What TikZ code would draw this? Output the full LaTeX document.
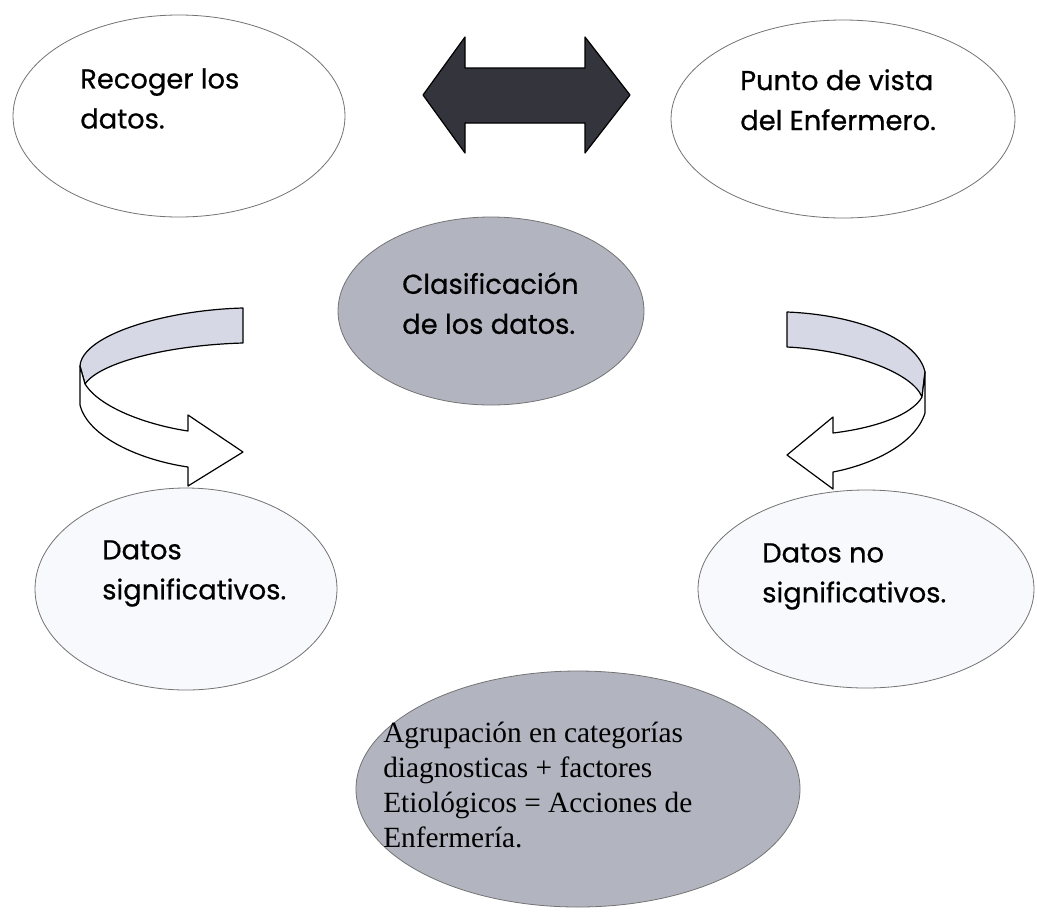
\documentclass[tikz,border=0pt]{standalone}
\usepackage{fontspec}
\setmainfont{Liberation Serif}
\newfontfamily\handfont[FakeBold=0.6]{Poppins}

\definecolor{bubblegrey}{RGB}{178,181,192}
\definecolor{bandgrey}{RGB}{214,217,229}
\definecolor{arrowdark}{RGB}{52,52,60}
\definecolor{paleblob}{RGB}{248,249,252}

\tikzset{
  blob/.style={draw=black!55, line width=0.6pt},
  greyblob/.style={blob, fill=bubblegrey},
  paleblob/.style={blob, fill=paleblob},
  handtext/.style={anchor=north west, inner sep=0pt, align=left, font=\handfont\fontsize{20.5}{30}\selectfont},
  printtext/.style={anchor=north west, inner sep=0pt, align=left, font=\fontsize{22}{26.25}\selectfont},
  ribbon/.style={draw=black, line width=0.9pt, line join=round},
}

\begin{document}
\begin{tikzpicture}[x=0.75pt,y=0.75pt,yscale=-1,xscale=1]
	\useasboundingbox (0,0) rectangle (1037,918);
	\fill[white] (0,0) rectangle (1037,918);
	% bubbles
	\draw [blob] (179,116) ellipse (166 and 101);
	\draw [blob] (843,119) ellipse (172 and 99);
	\draw [greyblob] (491,311) ellipse (153 and 94);
	\draw [paleblob] (186,589) ellipse (151 and 101);
	\draw [paleblob] (866,589) ellipse (168 and 99);
	\draw [greyblob] (578,789) ellipse (222 and 118);
	% double arrow
	\draw [ribbon, fill=arrowdark] (423,95) -- (465,37) -- (465,68) -- (585,68) -- (585,37) -- (630,95) -- (585,153) -- (585,123) -- (465,123) -- (465,153) -- cycle ;
	% left turning arrow
	\draw [ribbon, fill=bandgrey] (243,308) .. controls (165,310) and (82,335) .. (80,366) -- (85,384) .. controls (100,362) and (170,345) .. (243,343) -- cycle ;
	\draw [ribbon, fill=white] (80,366) -- (80,405) .. controls (88,437) and (140,460) .. (188,467) -- (188,486) -- (243,452) -- (188,415) -- (188,431) .. controls (148,425) and (100,408) .. (85,384) -- cycle ;
	% right turning arrow
	\draw [ribbon, fill=bandgrey] (787,312) .. controls (860,315) and (918,340) .. (925,372) -- (922,397) .. controls (912,372) and (850,350) .. (787,347) -- cycle ;
	\draw [ribbon, fill=white] (925,372) -- (925,413) .. controls (915,445) and (870,465) .. (833,472) -- (833,489) -- (787,455) -- (833,417) -- (833,433) .. controls (875,428) and (912,415) .. (922,397) -- cycle ;
	% labels
	\draw (80,68) node [handtext] (recoger) {Recoger los\\datos.};
	\draw (740,69) node [handtext] (punto) {Punto de vista\\del Enfermero.};
	\draw (402,272) node [handtext] (clasif) {Clasificación\\de los datos.};
	\draw (102,540) node [handtext] (signif) {Datos\\significativos.};
	\draw (762,543) node [handtext] (nosignif) {Datos no\\significativos.};
	\draw (383,722) node [printtext] (agrup) {Agrupación en categorías\\diagnosticas + factores\\Etiológicos = Acciones de\\Enfermería.};
\end{tikzpicture}
\end{document}
